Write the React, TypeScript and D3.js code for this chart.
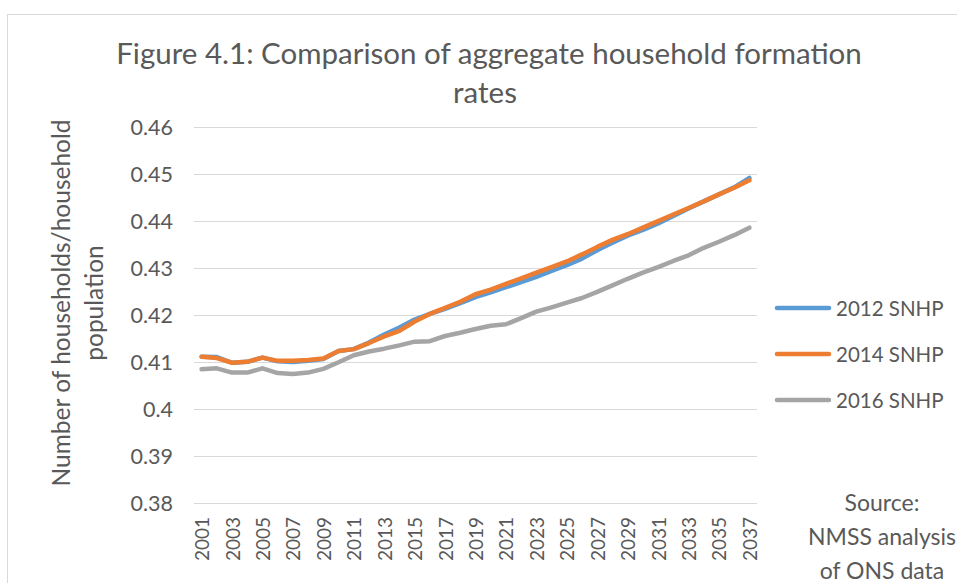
import React from "react";
import * as d3 from "d3";

const years: number[] = [
  2001, 2002, 2003, 2004, 2005, 2006, 2007, 2008, 2009, 2010, 2011, 2012, 2013,
  2014, 2015, 2016, 2017, 2018, 2019, 2020, 2021, 2022, 2023, 2024, 2025, 2026,
  2027, 2028, 2029, 2030, 2031, 2032, 2033, 2034, 2035, 2036, 2037,
];

const snhp2012: number[] = [
  0.4111, 0.411, 0.4098, 0.41, 0.4109, 0.4101, 0.40995, 0.4102, 0.4106, 0.4123,
  0.4127, 0.4141, 0.4158, 0.4173, 0.419, 0.4202, 0.4213, 0.4225, 0.4238, 0.4248,
  0.4259, 0.427, 0.4281, 0.4294, 0.4306, 0.432, 0.4338, 0.4354, 0.4369, 0.4381,
  0.4395, 0.4411, 0.4427, 0.4442, 0.4457, 0.4472, 0.4492,
];

const snhp2014: number[] = [
  0.4111, 0.4108, 0.4098, 0.41, 0.4109, 0.4102, 0.4102, 0.4104, 0.4107, 0.4123,
  0.4127, 0.414, 0.4154, 0.4166, 0.4186, 0.4202, 0.4215, 0.4228, 0.4244, 0.4254,
  0.4266, 0.4278, 0.429, 0.4302, 0.4314, 0.4329, 0.4345, 0.436, 0.4372, 0.4386,
  0.44, 0.4414, 0.4428, 0.4442, 0.4457, 0.4471, 0.4487,
];

const snhp2016: number[] = [
  0.4084, 0.4086, 0.4077, 0.4077, 0.4086, 0.4076, 0.4074, 0.4077, 0.4085, 0.4099,
  0.4114, 0.4122, 0.4128, 0.4135, 0.4143, 0.4144, 0.4155, 0.4162, 0.417, 0.4177,
  0.418, 0.4193, 0.4207, 0.4216, 0.4226, 0.4236, 0.4249, 0.4263, 0.4277, 0.429,
  0.4302, 0.4315, 0.4327, 0.4343, 0.4356, 0.437, 0.4386,
];

const seriesNames: string[] = ["2012 SNHP", "2014 SNHP", "2016 SNHP"];
const seriesColors: string[] = ["#5B9BD5", "#ED7D31", "#A5A5A5"];
const yTicks: number[] = [0.38, 0.39, 0.4, 0.41, 0.42, 0.43, 0.44, 0.45, 0.46];

const titleLines: string[] = [
  "Figure 4.1: Comparison of aggregate household formation",
  "rates",
];
const yTitleLines: string[] = ["Number of households/household", "population"];
const sourceLines: string[] = ["Source:", "NMSS analysis", "of ONS data"];

const FONT = "Lato, 'Open Sans', sans-serif";
const TEXT = "#595959";

export default function App() {
  const W = 957;
  const H = 583;
  const left = 194;
  const right = 757;
  const top = 127.3;
  const bottom = 502.5;

  const x = d3
    .scaleBand<number>()
    .domain(years)
    .range([left, right])
    .paddingInner(0)
    .paddingOuter(0);
  const bw = x.bandwidth();
  const cx = (yr: number) => (x(yr) as number) + bw / 2;

  const y = d3.scaleLinear().domain([0.38, 0.46]).range([bottom, top]);

  const allSeries = [snhp2012, snhp2014, snhp2016];
  const line = d3
    .line<number>()
    .x((_, i) => cx(years[i]))
    .y((d) => y(d));

  const legendY = [308, 354, 400];

  return (
    <svg
      width={W}
      height={H}
      style={{ position: "absolute", left: 0, top: 0, background: "#fff" }}
      fontFamily={FONT}
    >
      <rect x={0} y={0} width={W} height={H} fill="#fff" />
      <rect
        x={7.5}
        y={14.5}
        width={W + 20}
        height={H + 20}
        fill="none"
        stroke="#d9d9d9"
        strokeWidth={1}
      />
      {/* title */}
      <text x={489} y={64} textAnchor="middle" fontSize={29.5} fill={TEXT}>
        {titleLines[0]}
      </text>
      <text x={485} y={103} textAnchor="middle" fontSize={29.5} fill={TEXT}>
        {titleLines[1]}
      </text>

      {/* gridlines */}
      {yTicks.map((t) => (
        <line
          key={t}
          x1={left}
          x2={right}
          y1={Math.round(y(t)) + 0.5}
          y2={Math.round(y(t)) + 0.5}
          stroke="#d9d9d9"
          strokeWidth={1}
        />
      ))}
      {/* y tick labels */}
      {yTicks.map((t) => (
        <text
          key={"l" + t}
          x={173}
          y={y(t)}
          textAnchor="end"
          dominantBaseline="central"
          fontSize={21.5}
          fill={TEXT}
        >
          {d3.format("")(t)}
        </text>
      ))}
      {/* x tick labels */}
      {years
        .filter((yr) => yr % 2 === 1)
        .map((yr) => (
          <text
            key={"x" + yr}
            transform={`translate(${cx(yr)},517) rotate(-90)`}
            textAnchor="end"
            dominantBaseline="central"
            fontSize={19}
            fill={TEXT}
          >
            {yr}
          </text>
        ))}

      {/* y title */}
      {yTitleLines.map((s, i) => (
        <text
          key={"yt" + i}
          transform={`translate(${60 + i * 33},303) rotate(-90)`}
          textAnchor="middle"
          dominantBaseline="central"
          fontSize={24.5}
          fill={TEXT}
        >
          {s}
        </text>
      ))}

      {/* lines */}
      {allSeries.map((s, i) => (
        <path
          key={"p" + i}
          d={line(s) as string}
          fill="none"
          stroke={seriesColors[i]}
          strokeWidth={4.5}
          strokeLinejoin="round"
          strokeLinecap="round"
        />
      ))}

      {/* legend */}
      {seriesNames.map((n, i) => (
        <g key={"lg" + i}>
          <line
            x1={777}
            x2={829}
            y1={legendY[i]}
            y2={legendY[i]}
            stroke={seriesColors[i]}
            strokeWidth={4.5}
            strokeLinecap="round"
          />
          <text
            x={836}
            y={legendY[i]}
            dominantBaseline="central"
            fontSize={20.5}
            fill={TEXT}
          >
            {n}
          </text>
        </g>
      ))}

      {/* source */}
      {sourceLines.map((s, i) => (
        <text
          key={"s" + i}
          x={882}
          y={502 + i * 34}
          textAnchor="middle"
          dominantBaseline="central"
          fontSize={23}
          fill={TEXT}
        >
          {s}
        </text>
      ))}
    </svg>
  );
}
